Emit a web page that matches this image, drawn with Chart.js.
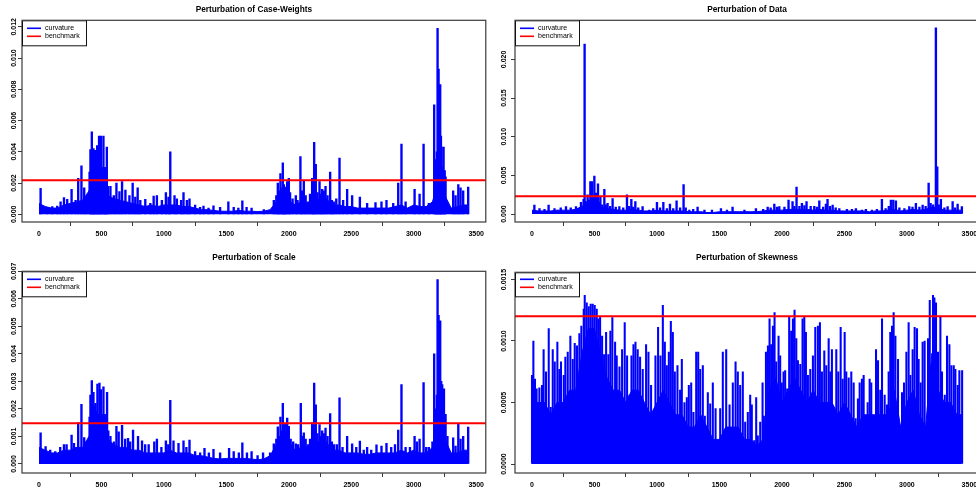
<!DOCTYPE html>
<html lang="en">
<head>
<meta charset="UTF-8">
<title>Perturbation curvature plots</title>
<script src="https://cdn.jsdelivr.net/npm/chart.js"></script>
<style>
  html, body { margin: 0; padding: 0; background: #fff; }
  body { width: 976px; height: 492px; overflow: hidden; position: relative; }
  canvas { position: absolute; }
</style>
</head>
<body>
<canvas id="cw" width="488" height="246" style="left:0;top:0"></canvas>
<canvas id="dat" width="496" height="246" style="left:488px;top:0"></canvas>
<canvas id="scl" width="488" height="246" style="left:0;top:246px"></canvas>
<canvas id="skw" width="496" height="246" style="left:488px;top:246px"></canvas>
<script>
const FONT = '"Liberation Sans", Arial, sans-serif';

// shared x axis (observation index)
const X_MIN = -136, X_MAX = 3577;
const xTicks = [0, 500, 1000, 1500, 2000, 2500, 3000, 3500];
const legendLabels = ['curvature', 'benchmark'];

// positions of the low "floor" level of the dense curvature trace
const bandX = [0, 50, 100, 150, 200, 250, 300, 350, 400, 450,
  500, 550, 600, 650, 700, 750, 800, 850, 900, 950,
  1000, 1050, 1100, 1150, 1200, 1250, 1300, 1350, 1400, 1450,
  1500, 1550, 1600, 1650, 1700, 1750, 1800, 1850, 1900, 1950,
  2000, 2050, 2100, 2150, 2200, 2250, 2300, 2350, 2400, 2450,
  2500, 2550, 2600, 2650, 2700, 2750, 2800, 2850, 2900, 2950,
  3000, 3050, 3100, 3150, 3200, 3250, 3300, 3350, 3400, 3440];

// --- Perturbation of Case-Weights ---
const cwYTicks = [0, 0.002, 0.004, 0.006, 0.008, 0.010, 0.012];
const cwYLabels = ['0.000', '0.002', '0.004', '0.006', '0.008', '0.010', '0.012'];
const cwBenchmark = 0.00218;
const cwBand = [0.0007, 0.0005, 0.0004, 0.0004, 0.0006, 0.0007, 0.0008, 0.0009, 0.0015, 0.0022,
  0.0021, 0.0012, 0.0010, 0.0009, 0.0008, 0.0007, 0.0006, 0.0005, 0.0006, 0.0005,
  0.0006, 0.0006, 0.0006, 0.0005, 0.0005, 0.0004, 0.0003, 0.0003, 0.00025, 0.0002,
  0.0002, 0.0002, 0.00025, 0.0002, 0.0002, 0.00018, 0.0002, 0.0003, 0.0008, 0.0011,
  0.0009, 0.0006, 0.0008, 0.0007, 0.0010, 0.0009, 0.0010, 0.0006, 0.0006, 0.0005,
  0.0005, 0.0004, 0.0004, 0.0004, 0.0004, 0.0004, 0.0004, 0.0005, 0.0006, 0.0004,
  0.0006, 0.0005, 0.0005, 0.0008, 0.0022, 0.0012, 0.0004, 0.0005, 0.0006, 0.0006];
const cwSpikeX = [13, 66, 106, 146, 173, 200, 226, 261, 293, 314,
  340, 362, 380, 405, 412, 423, 428, 436, 442, 450,
  458, 466, 474, 481, 488, 495, 505, 516, 523, 530,
  537, 543, 552, 572, 599, 620, 644, 665, 692, 724,
  750, 771, 790, 811, 851, 891, 918, 944, 984, 1016,
  1037, 1051, 1085, 1104, 1138, 1157, 1184, 1205, 1250, 1290,
  1317, 1357, 1397, 1450, 1516, 1559, 1596, 1628, 1662, 1702,
  1800, 1880, 1900, 1912, 1920, 1933, 1945, 1952, 1960, 1968,
  1975, 1987, 2000, 2010, 2030, 2056, 2070, 2093, 2105, 2120,
  2135, 2152, 2170, 2187, 2195, 2203, 2216, 2230, 2246, 2255,
  2267, 2280, 2294, 2310, 2331, 2345, 2360, 2380, 2406, 2435,
  2467, 2507, 2569, 2627, 2694, 2742, 2782, 2836, 2876, 2902,
  2935, 3007, 3047, 3079, 3121, 3164, 3172, 3180, 3185, 3191,
  3199, 3205, 3212, 3218, 3223, 3230, 3239, 3248, 3255, 3316,
  3335, 3357, 3375, 3396, 3436];
const cwSpikeY = [0.00166, 0.00045, 0.0005, 0.00053, 0.0008, 0.00107, 0.00096, 0.0016, 0.0009, 0.0023,
  0.0031, 0.0017, 0.0011, 0.0027, 0.00415, 0.00528, 0.0030, 0.0042, 0.0035, 0.0041,
  0.0032, 0.0044, 0.0030, 0.0050, 0.0028, 0.0050, 0.0030, 0.0050, 0.0027, 0.0030,
  0.0022, 0.0043, 0.0018, 0.0018, 0.0012, 0.0020, 0.00145, 0.0021, 0.00155, 0.0012,
  0.0020, 0.0011, 0.0017, 0.0009, 0.00096, 0.0007, 0.00117, 0.0012, 0.0009, 0.0014,
  0.0011, 0.0040, 0.0012, 0.0010, 0.0009, 0.0014, 0.0009, 0.0010, 0.0006, 0.00045,
  0.00053, 0.0004, 0.00055, 0.00045, 0.0008, 0.00045, 0.0004, 0.00087, 0.00045, 0.0004,
  0.0003, 0.0009, 0.0012, 0.0020, 0.0015, 0.0026, 0.0017, 0.0033, 0.0019, 0.00175,
  0.0016, 0.0021, 0.0023, 0.0014, 0.0010, 0.0012, 0.0009, 0.0037, 0.0015, 0.0022,
  0.0012, 0.0008, 0.0013, 0.0023, 0.0016, 0.0046, 0.0032, 0.0014, 0.0021, 0.0013,
  0.0016, 0.0015, 0.0018, 0.0012, 0.0027, 0.0009, 0.0008, 0.0010, 0.0036, 0.0009,
  0.0016, 0.0012, 0.0011, 0.0007, 0.00075, 0.0008, 0.0009, 0.0007, 0.0020, 0.0045,
  0.0008, 0.0016, 0.0013, 0.0045, 0.0007, 0.0070, 0.0035, 0.0030, 0.0040, 0.0119,
  0.0093, 0.0060, 0.0083, 0.0050, 0.0043, 0.0030, 0.0043, 0.0028, 0.0024, 0.0015,
  0.0012, 0.0019, 0.0017, 0.0015, 0.00175];

// --- Perturbation of Data ---
const datYTicks = [0, 0.005, 0.010, 0.015, 0.020];
const datYLabels = ['0.000', '0.005', '0.010', '0.015', '0.020'];
const datBenchmark = 0.00230;
const datBand = [0.0005, 0.0004, 0.0004, 0.0004, 0.0005, 0.0005, 0.0005, 0.0006, 0.0010, 0.0014,
  0.0014, 0.0010, 0.0007, 0.0006, 0.0005, 0.0005, 0.0006, 0.0005, 0.0004, 0.0004,
  0.0005, 0.0004, 0.0004, 0.0004, 0.0004, 0.0003, 0.0003, 0.0003, 0.0002, 0.0002,
  0.0003, 0.0003, 0.0003, 0.0003, 0.0003, 0.0003, 0.0003, 0.0004, 0.0005, 0.0005,
  0.0005, 0.0006, 0.0006, 0.0006, 0.0006, 0.0005, 0.0006, 0.0005, 0.0005, 0.0004,
  0.0004, 0.0004, 0.0004, 0.0004, 0.0003, 0.0004, 0.0004, 0.0005, 0.0006, 0.0004,
  0.0005, 0.0006, 0.0005, 0.0006, 0.0009, 0.0008, 0.0005, 0.0005, 0.0005, 0.0005];
const datSpikeX = [19, 60, 100, 133, 180, 230, 272, 310, 352, 392,
  413, 421, 432, 445, 455, 467, 473, 480, 490, 499,
  505, 512, 520, 528, 537, 547, 560, 579, 590, 605,
  625, 645, 670, 699, 730, 760, 778, 795, 810, 827,
  850, 885, 939, 970, 1000, 1025, 1051, 1080, 1104, 1130,
  1157, 1185, 1213, 1230, 1259, 1290, 1325, 1380, 1440, 1512,
  1560, 1605, 1700, 1792, 1850, 1886, 1910, 1939, 1960, 1979,
  2020, 2053, 2085, 2100, 2117, 2140, 2160, 2180, 2197, 2230,
  2259, 2280, 2299, 2330, 2352, 2365, 2385, 2406, 2430, 2459,
  2520, 2560, 2592, 2640, 2672, 2720, 2760, 2800, 2830, 2855,
  2872, 2891, 2912, 2940, 2980, 3019, 3045, 3072, 3100, 3126,
  3150, 3174, 3190, 3210, 3232, 3243, 3255, 3272, 3300, 3326,
  3366, 3385, 3406, 3440];
const datSpikeY = [0.00116, 0.0007, 0.0006, 0.00116, 0.0007, 0.0008, 0.00095, 0.0008, 0.00095, 0.0015,
  0.0019, 0.0220, 0.0016, 0.0025, 0.0018, 0.0042, 0.0020, 0.0042, 0.0022, 0.0049,
  0.0020, 0.0027, 0.0017, 0.0039, 0.0015, 0.0022, 0.0012, 0.0032, 0.0012, 0.0014,
  0.0010, 0.0020, 0.0009, 0.00095, 0.0008, 0.0025, 0.0010, 0.0019, 0.0009, 0.0016,
  0.0008, 0.00095, 0.0005, 0.0007, 0.0015, 0.0008, 0.0015, 0.0007, 0.0013, 0.0007,
  0.0017, 0.0008, 0.0038, 0.0008, 0.0005, 0.0006, 0.0009, 0.0005, 0.0005, 0.0007,
  0.0005, 0.0009, 0.0005, 0.0007, 0.0006, 0.0009, 0.0008, 0.0013, 0.0009, 0.00095,
  0.0009, 0.0018, 0.0016, 0.0010, 0.0035, 0.0010, 0.0014, 0.0011, 0.0016, 0.0010,
  0.0010, 0.0009, 0.0017, 0.0009, 0.0013, 0.0019, 0.0010, 0.00116, 0.0008, 0.0007,
  0.0006, 0.0006, 0.0007, 0.0005, 0.0006, 0.0005, 0.0006, 0.0019, 0.0007, 0.0010,
  0.0018, 0.0018, 0.0017, 0.0008, 0.0007, 0.00095, 0.0009, 0.0014, 0.0009, 0.00116,
  0.0010, 0.0040, 0.0014, 0.0012, 0.0241, 0.0061, 0.0012, 0.0019, 0.0008, 0.00095,
  0.0016, 0.0008, 0.0013, 0.00095];

// --- Perturbation of Scale ---
const sclYTicks = [0, 0.001, 0.002, 0.003, 0.004, 0.005, 0.006, 0.007];
const sclYLabels = ['0.000', '0.001', '0.002', '0.003', '0.004', '0.005', '0.006', '0.007'];
const sclBenchmark = 0.00148;
const sclBand = [0.0006, 0.0005, 0.0004, 0.0004, 0.0005, 0.0005, 0.0006, 0.0006, 0.0010, 0.0014,
  0.0014, 0.0009, 0.0007, 0.0006, 0.0006, 0.0005, 0.0005, 0.0004, 0.0004, 0.0004,
  0.0004, 0.0005, 0.0004, 0.0004, 0.0004, 0.0003, 0.0003, 0.00025, 0.0002, 0.00018,
  0.0002, 0.0002, 0.0002, 0.0002, 0.00018, 0.00015, 0.00018, 0.0003, 0.0007, 0.0009,
  0.0008, 0.0005, 0.0006, 0.0006, 0.0008, 0.0008, 0.0008, 0.0005, 0.0005, 0.0004,
  0.0004, 0.0004, 0.00035, 0.00035, 0.0004, 0.0004, 0.0004, 0.0004, 0.0005, 0.0004,
  0.0005, 0.0004, 0.0004, 0.0006, 0.0015, 0.0009, 0.0004, 0.0004, 0.0005, 0.0005];
const sclSpikeX = [13, 53, 90, 130, 170, 200, 221, 261, 280, 300,
  314, 340, 362, 380, 399, 405, 412, 423, 428, 436,
  442, 452, 458, 468, 474, 484, 490, 495, 505, 516,
  527, 537, 545, 555, 572, 600, 620, 638, 665, 690,
  713, 730, 753, 793, 825, 850, 878, 923, 944, 980,
  1016, 1035, 1051, 1077, 1117, 1157, 1180, 1205, 1250, 1290,
  1325, 1360, 1397, 1450, 1522, 1559, 1600, 1628, 1665, 1702,
  1750, 1794, 1850, 1880, 1900, 1912, 1922, 1933, 1945, 1952,
  1960, 1968, 1978, 1987, 2000, 2015, 2035, 2056, 2075, 2096,
  2110, 2120, 2135, 2152, 2170, 2187, 2195, 2203, 2216, 2230,
  2246, 2258, 2267, 2280, 2294, 2310, 2331, 2345, 2363, 2385,
  2406, 2430, 2467, 2507, 2540, 2569, 2600, 2627, 2660, 2702,
  2742, 2782, 2820, 2850, 2876, 2902, 2935, 2970, 3007, 3025,
  3047, 3079, 3100, 3121, 3150, 3164, 3175, 3185, 3191, 3199,
  3205, 3212, 3220, 3228, 3235, 3242, 3255, 3270, 3316, 3335,
  3357, 3375, 3396, 3436];
const sclSpikeY = [0.00113, 0.00063, 0.0005, 0.00045, 0.0006, 0.0007, 0.0007, 0.00105, 0.00075, 0.0006,
  0.0015, 0.00217, 0.00096, 0.0008, 0.00087, 0.0017, 0.0025, 0.00303, 0.0020, 0.0026,
  0.0021, 0.0022, 0.0019, 0.0029, 0.0018, 0.00294, 0.0017, 0.0027, 0.0018, 0.0028,
  0.0018, 0.0015, 0.0026, 0.0012, 0.0010, 0.0008, 0.00137, 0.00117, 0.0014, 0.0009,
  0.00093, 0.0008, 0.00123, 0.0010, 0.00084, 0.0007, 0.0007, 0.0008, 0.0009, 0.0006,
  0.00084, 0.0007, 0.00231, 0.00084, 0.00075, 0.00084, 0.0006, 0.00087, 0.00045, 0.0004,
  0.00057, 0.0004, 0.00053, 0.0004, 0.00057, 0.00045, 0.0004, 0.00077, 0.0004, 0.00045,
  0.0003, 0.0004, 0.0004, 0.00073, 0.0009, 0.00135, 0.0010, 0.0017, 0.0012, 0.0022,
  0.0013, 0.00146, 0.0011, 0.00167, 0.00137, 0.0009, 0.0008, 0.00073, 0.0007, 0.0022,
  0.0010, 0.00113, 0.0009, 0.0007, 0.0009, 0.0015, 0.0012, 0.00294, 0.00215, 0.0011,
  0.00143, 0.0010, 0.0012, 0.0011, 0.0013, 0.0010, 0.00183, 0.0008, 0.0007, 0.0007,
  0.0024, 0.0006, 0.0010, 0.00073, 0.0006, 0.00083, 0.0005, 0.0006, 0.0005, 0.00069,
  0.00065, 0.00075, 0.0006, 0.0007, 0.00123, 0.00288, 0.0006, 0.0006, 0.0010, 0.0008,
  0.0009, 0.00296, 0.0006, 0.0006, 0.0008, 0.0040, 0.0020, 0.0025, 0.0067, 0.0054,
  0.0035, 0.0052, 0.0030, 0.00288, 0.0022, 0.00273, 0.0018, 0.0010, 0.00095, 0.00065,
  0.00147, 0.0009, 0.0010, 0.00134];

// --- Perturbation of Skewness ---
const skwYTicks = [0, 0.0005, 0.0010, 0.0015];
const skwYLabels = ['0.0000', '0.0005', '0.0010', '0.0015'];
const skwBenchmark = 0.00120;
const skwBand = [0.0005, 0.0005, 0.0005, 0.0004, 0.0005, 0.0005, 0.0006, 0.0006, 0.0009, 0.0011,
  0.0011, 0.0009, 0.0007, 0.0006, 0.0006, 0.0005, 0.0006, 0.0006, 0.0005, 0.0004,
  0.0005, 0.0006, 0.0005, 0.0004, 0.0004, 0.0003, 0.0003, 0.0004, 0.0003, 0.0002,
  0.0002, 0.0003, 0.0003, 0.0003, 0.0002, 0.0002, 0.00015, 0.0002, 0.0006, 0.0007,
  0.0005, 0.0006, 0.0007, 0.0006, 0.0005, 0.0006, 0.0005, 0.0005, 0.0005, 0.0004,
  0.0005, 0.0004, 0.0003, 0.0004, 0.0004, 0.0004, 0.0004, 0.0004, 0.0006, 0.0003,
  0.0005, 0.0006, 0.0004, 0.0003, 0.0009, 0.0006, 0.0005, 0.0005, 0.0004, 0.0004];
const skwSpikeX = [0, 11, 24, 37, 59, 80, 93, 112, 134, 150,
  166, 182, 203, 219, 232, 254, 267, 286, 307, 326,
  342, 360, 379, 395, 414, 422, 438, 454, 470, 486,
  502, 518, 531, 545, 561, 577, 593, 611, 627, 643,
  665, 678, 700, 721, 742, 761, 780, 796, 812, 828,
  846, 865, 886, 913, 932, 953, 967, 988, 1009, 1028,
  1047, 1063, 1079, 1095, 1111, 1127, 1143, 1164, 1185, 1199,
  1220, 1239, 1255, 1274, 1292, 1314, 1330, 1346, 1367, 1383,
  1407, 1426, 1447, 1469, 1485, 1506, 1527, 1554, 1581, 1607,
  1629, 1647, 1666, 1687,
  1706, 1727, 1746, 1759, 1778, 1794, 1807, 1826, 1845, 1856,
  1872, 1888, 1901, 1914, 1928, 1941, 1954, 1973, 1986, 1999,
  2013, 2026, 2042, 2058, 2074, 2088, 2101, 2115, 2128, 2147,
  2165, 2179, 2192, 2208, 2227, 2248, 2267, 2288, 2304, 2320,
  2339, 2355, 2374, 2387, 2400, 2416, 2435, 2451, 2470, 2486,
  2502, 2515, 2534, 2555, 2574, 2590, 2608, 2622, 2640, 2654,
  2667, 2686, 2702, 2715, 2734, 2753, 2769, 2787, 2801, 2822,
  2841, 2854, 2867, 2881, 2894, 2908, 2929, 2942, 2961, 2977,
  2996, 3014, 3028, 3046, 3062, 3081, 3094, 3110, 3126, 3142,
  3156, 3169, 3183, 3196, 3209, 3220, 3233, 3249, 3268, 3281,
  3303, 3321, 3340, 3356, 3375, 3388, 3407, 3420, 3442];
const skwSpikeY = [0.00072, 0.00100, 0.00069, 0.00061, 0.00062, 0.00064, 0.00093, 0.00075, 0.00110, 0.00046,
  0.00093, 0.00083, 0.00099, 0.00077, 0.00083, 0.00072, 0.00087, 0.00091, 0.00104, 0.00085,
  0.00098, 0.00096, 0.00106, 0.00112, 0.00126, 0.00137, 0.00131, 0.00128, 0.00130, 0.00130,
  0.00129, 0.00126, 0.00118, 0.00120, 0.00104, 0.00089, 0.00107, 0.00089, 0.00108, 0.00119,
  0.00099, 0.00088, 0.00079, 0.00093, 0.00115, 0.00088, 0.00056, 0.00088, 0.00097, 0.00099,
  0.00093, 0.00087, 0.00077, 0.00097, 0.00091, 0.00064, 0.00015, 0.00088, 0.00111, 0.00088,
  0.00129, 0.00099, 0.00080, 0.00091, 0.00116, 0.00107, 0.00075, 0.00080, 0.00060, 0.00085,
  0.00050, 0.00054, 0.00064, 0.00066, 0.00042, 0.00091, 0.00091, 0.00077, 0.00080, 0.00039,
  0.00058, 0.00049, 0.00066, 0.00045, 0.00015, 0.00045, 0.00091, 0.00093, 0.00048, 0.00066,
  0.00083, 0.00075, 0.00064, 0.00075,
  0.00034, 0.00042, 0.00056, 0.00048, 0.00019, 0.00054, 0.00023, 0.00034, 0.00066, 0.00039,
  0.00091, 0.00096, 0.00118, 0.00097, 0.00112, 0.00123, 0.00083, 0.00104, 0.00088, 0.00066,
  0.00075, 0.00076, 0.00061, 0.00120, 0.00108, 0.00118, 0.00125, 0.00102, 0.00084, 0.00081,
  0.00118, 0.00120, 0.00107, 0.00072, 0.00077, 0.00088, 0.00111, 0.00112, 0.00115, 0.00075,
  0.00092, 0.00080, 0.00102, 0.00075, 0.00093, 0.00037, 0.00093, 0.00075, 0.00111, 0.00069,
  0.00107, 0.00075, 0.00070, 0.00075, 0.00066, 0.00037, 0.00053, 0.00066, 0.00069, 0.00072,
  0.00035, 0.00050, 0.00069, 0.00066, 0.00038, 0.00093, 0.00084, 0.00060, 0.00118, 0.00056,
  0.00048, 0.00075, 0.00107, 0.00112, 0.00123, 0.00104, 0.00085, 0.00031, 0.00058, 0.00066,
  0.00091, 0.00115, 0.00072, 0.00093, 0.00111, 0.00110, 0.00085, 0.00066, 0.00099, 0.00100,
  0.00014, 0.00102, 0.00133, 0.00080, 0.00137, 0.00135, 0.00131, 0.00091, 0.00120, 0.00075,
  0.00056, 0.00104, 0.00097, 0.00080, 0.00080, 0.00077, 0.00064, 0.00076, 0.00076];

function points(xs, ys) {
  const n = Math.min(xs.length, ys.length);
  const out = [];
  for (let i = 0; i < n; i++) out.push({ x: xs[i], y: ys[i] });
  return out;
}

// box, rotated y labels and legend, drawn the way R's base graphics does
function rStyle(p) {
  return {
    id: 'rStyle',
    afterDraw(chart) {
      const ctx = chart.ctx, a = chart.chartArea, ys = chart.scales.y;
      ctx.save();
      ctx.strokeStyle = '#3a3a3a';
      ctx.lineWidth = 1.2;
      ctx.strokeRect(a.left, a.top, a.right - a.left, a.bottom - a.top);

      ctx.fillStyle = '#000';
      ctx.font = 'bold 7px ' + FONT;
      ctx.textAlign = 'center';
      ctx.textBaseline = 'middle';
      p.yTicks.forEach((v, i) => {
        ctx.save();
        ctx.translate(p.labelX, ys.getPixelForValue(v));
        ctx.rotate(-Math.PI / 2);
        ctx.fillText(p.yLabels[i], 0, 0);
        ctx.restore();
      });

      const lx = a.left, ly = a.top;
      ctx.fillStyle = '#fff';
      ctx.fillRect(lx, ly, 64, p.legendH);
      ctx.strokeStyle = '#111';
      ctx.lineWidth = 1;
      ctx.strokeRect(lx + 0.5, ly + 0.5, 64, p.legendH);
      const cols = ['#0000ff', '#ff0000'];
      ctx.font = '7px ' + FONT;
      ctx.textAlign = 'left';
      legendLabels.forEach((t, i) => {
        const y = ly + p.legendRows[i];
        ctx.strokeStyle = cols[i];
        ctx.lineWidth = 1.6;
        ctx.beginPath();
        ctx.moveTo(lx + 5, y);
        ctx.lineTo(lx + 19, y);
        ctx.stroke();
        ctx.fillStyle = '#000';
        ctx.fillText(t, lx + 23, y);
      });
      ctx.restore();
    }
  };
}

function makePanel(id, p) {
  const tickFont = { family: FONT, size: 7, weight: 'bold' };
  const gridOpts = { drawOnChartArea: false, drawTicks: true, tickLength: 4, color: '#3a3a3a', lineWidth: 1 };
  const datasets = [
    { type: 'line', label: 'benchmark', data: [{ x: X_MIN, y: p.bench }, { x: X_MAX, y: p.bench }],
      borderColor: '#ff0000', borderWidth: 2, pointRadius: 0 },
    { type: 'bar', label: 'curvature', data: points(p.spikeX, p.spikeY),
      backgroundColor: '#0000ff', borderWidth: 0, barThickness: p.barW }
  ];
  if (p.band) {
    datasets.push({ type: 'line', label: 'curvature floor', data: points(bandX, p.band),
      borderColor: '#0000ff', backgroundColor: '#0000ff', borderWidth: 1, pointRadius: 0,
      fill: 'origin', tension: 0 });
  }
  return new Chart(document.getElementById(id), {
    type: 'bar',
    data: { datasets },
    options: {
      responsive: false,
      animation: false,
      devicePixelRatio: 1,
      events: [],
      layout: { padding: { left: 0, right: p.padRight, top: 0, bottom: 0 } },
      plugins: {
        legend: { display: false },
        tooltip: { enabled: false },
        title: {
          display: true, text: p.title, fullSize: false, color: '#000',
          font: { family: FONT, size: 8.3, weight: 'bold', lineHeight: 1 },
          padding: p.titlePad
        }
      },
      scales: {
        x: {
          type: 'linear', min: X_MIN, max: X_MAX, offset: false,
          afterBuildTicks: s => { s.ticks = xTicks.map(v => ({ value: v })); },
          afterFit: s => { s.height = p.xHeight; },
          grid: gridOpts,
          border: { display: false },
          ticks: { autoSkip: false, maxRotation: 0, minRotation: 0, padding: 4, color: '#000',
            font: tickFont, callback: v => String(v) }
        },
        y: {
          type: 'linear', min: p.yMin, max: p.yMax,
          afterBuildTicks: s => { s.ticks = p.yTicks.map(v => ({ value: v })); },
          afterFit: s => { s.width = p.yWidth; },
          grid: gridOpts,
          border: { display: false },
          ticks: { display: false }
        }
      }
    },
    plugins: [rStyle(p)]
  });
}

makePanel('cw', {
  title: 'Perturbation of Case-Weights', yMin: -0.00049, yMax: 0.012415,
  yTicks: cwYTicks, yLabels: cwYLabels, bench: cwBenchmark,
  band: cwBand, spikeX: cwSpikeX, spikeY: cwSpikeY, barW: 1.7,
  yWidth: 22, padRight: 1, xHeight: 24, titlePad: { top: 6, bottom: 6 },
  labelX: 14, legendH: 25, legendRows: [8, 16]
});
makePanel('dat', {
  title: 'Perturbation of Data', yMin: -0.00103, yMax: 0.02506,
  yTicks: datYTicks, yLabels: datYLabels, bench: datBenchmark,
  band: datBand, spikeX: datSpikeX, spikeY: datSpikeY, barW: 1.7,
  yWidth: 27, padRight: 5, xHeight: 24, titlePad: { top: 6, bottom: 6 },
  labelX: 16, legendH: 25, legendRows: [8, 16]
});
makePanel('scl', {
  title: 'Perturbation of Scale', yMin: -0.00033, yMax: 0.0070,
  yTicks: sclYTicks, yLabels: sclYLabels, bench: sclBenchmark,
  band: sclBand, spikeX: sclSpikeX, spikeY: sclSpikeY, barW: 1.7,
  yWidth: 22, padRight: 1, xHeight: 19, titlePad: { top: 8, bottom: 9 },
  labelX: 14, legendH: 25, legendRows: [8, 16]
});
makePanel('skw', {
  title: 'Perturbation of Skewness', yMin: -0.000073, yMax: 0.001558,
  yTicks: skwYTicks, yLabels: skwYLabels, bench: skwBenchmark,
  band: skwBand, spikeX: skwSpikeX, spikeY: skwSpikeY, barW: 1.4,
  yWidth: 27, padRight: 5, xHeight: 19, titlePad: { top: 8, bottom: 10 },
  labelX: 16, legendH: 24, legendRows: [7, 15]
});
</script>
</body>
</html>
